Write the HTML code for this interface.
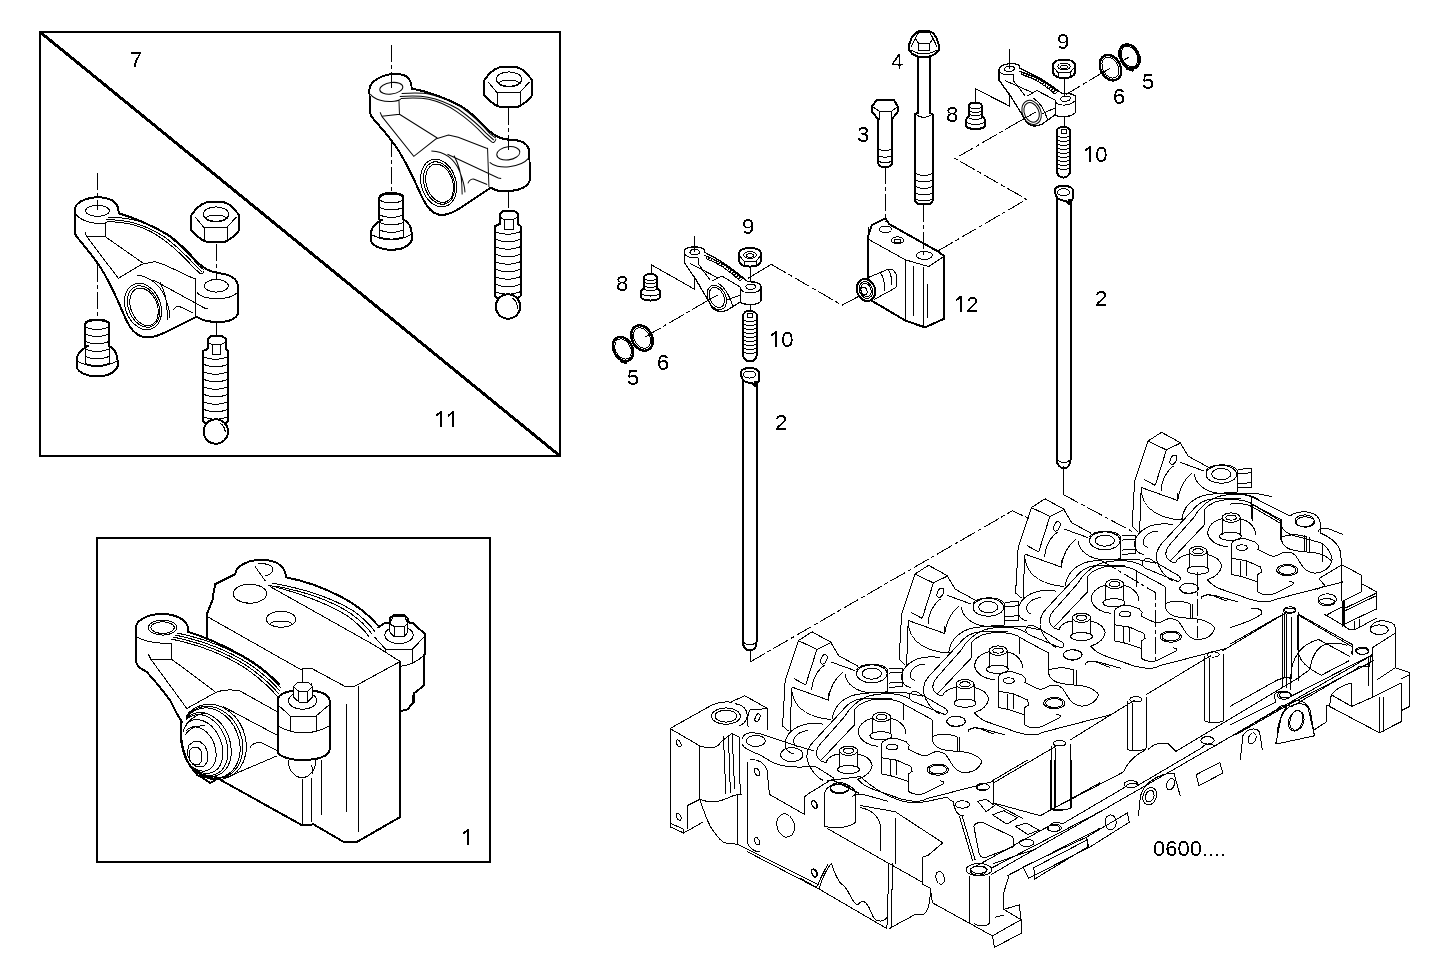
<!DOCTYPE html>
<html><head><meta charset="utf-8"><style>
html,body{margin:0;padding:0;background:#fff;width:1450px;height:977px;overflow:hidden}
svg{position:absolute;left:0;top:0}
.t{fill:none;stroke:#000;stroke-width:2;stroke-linejoin:round;stroke-linecap:round}
.n{fill:none;stroke:#000;stroke-width:1}
.d{fill:none;stroke:#000;stroke-width:1;stroke-dasharray:17 3 4 3}
.w{fill:#fff;stroke:#000;stroke-width:2;stroke-linejoin:round}
.nw{fill:#fff;stroke:#000;stroke-width:1}
.tw{fill:#fff;stroke:#000;stroke-width:2;stroke-linejoin:round}
</style></head><body>
<svg width="1450" height="977" viewBox="0 0 1450 977" font-family="Liberation Sans" font-size="22" shape-rendering="crispEdges">
<defs><filter id="bin" x="0" y="0" width="1" height="1"><feComponentTransfer><feFuncA type="discrete" tableValues="0 1"/></feComponentTransfer></filter></defs>
<!-- frames -->
<rect x="40" y="32" width="520" height="424" fill="none" stroke="#000" stroke-width="2"/>
<line x1="40" y1="32" x2="560" y2="456" stroke="#000" stroke-width="3"/>
<rect x="97" y="538" width="393" height="324" fill="none" stroke="#000" stroke-width="2"/>
<!-- labels -->
<g fill="#000" filter="url(#bin)">
<text x="130" y="67">7</text>
<path d="M440.2,411.0 h2 v16 h-2 v-13.2 l-4.7,3.4 v-2 z"/><path d="M452.4,411.0 h2 v16 h-2 v-13.2 l-4.7,3.4 v-2 z"/>
<path d="M467.2,829.0 h2 v16 h-2 v-13.2 l-4.7,3.4 v-2 z"/>
<text x="891" y="69">4</text>
<text x="1057" y="49">9</text>
<text x="1142" y="89">5</text>
<text x="1113" y="104">6</text>
<text x="946" y="122">8</text>
<text x="857" y="142">3</text>
<path d="M1089.2,146.0 h2 v16 h-2 v-13.2 l-4.7,3.4 v-2 z"/><text x="1095.2" y="162">0</text>
<path d="M960.2,295.5 h2 v16 h-2 v-13.2 l-4.7,3.4 v-2 z"/><text x="966.2" y="311.5">2</text>
<text x="1095" y="306">2</text>
<text x="742" y="234">9</text>
<text x="616" y="291">8</text>
<path d="M775.2,331.0 h2 v16 h-2 v-13.2 l-4.7,3.4 v-2 z"/><text x="781.2" y="347">0</text>
<text x="657" y="369.5">6</text>
<text x="627" y="385">5</text>
<text x="775" y="430">2</text>
<text x="1153" y="856">0600....</text>
</g>
<!-- BOX7 -->
<defs>
<g id="rocker">
<path class="w" d="M74.7,210 C75,203 84,198 97.5,197.2 C110,197.5 117,202 118.3,209 L118.7,213.3 C135,218 153,226 168.3,235 C180,243 190,254 198,263 C205,269 210,272 220,273.3 C232,275 238,280 238,287 L238,313.3 C236,319 228,322 218,322 C208,322 200,319 196.7,316.7 L166.7,331.7 C160,335 153,337.5 146.7,337.5 C140,337 134,333 130,326.7 C124,317 120,305 116.7,298.3 C112,288 106,276 100,266.7 C92,255 82,243 76.7,236.7 C74.8,234 74.7,232 74.7,231.7 Z"/>
<ellipse class="n" cx="97.5" cy="210.8" rx="12" ry="5.5"/>
<path class="n" d="M75.5,214 C80,220 90,223.5 100,223.5 C104,223.5 106,223 107,222 M105,222.5 L105,236.5 L86.7,236.5 L85,232.5 M86.7,236.5 L118.3,278.3 L141.7,264.2 L155,261.7 L165,265 L193.3,278.3 L195,279 M105,236.5 L143.3,263.3"/>
<path class="n" d="M106,219.5 C118,220 127,221 135,223.3 C148,227 157,232 166,238 C176,246 186,255 194,264 L201.7,271.5 M108,217 C120,217.5 130,218.5 138,221 C150,225 160,230 170,237 C180,245 190,255 198,265 L204,270 M107,221.5 C119,222 128,223 136,225.5 C147,229 156,234 164,240 C175,248 185,258 193,267 L199.5,273 C201,274.5 203,274 204,271"/>
<ellipse class="n" cx="143" cy="306.5" rx="17.5" ry="24" transform="rotate(-22 143 306.5)"/>
<ellipse class="n" cx="143.5" cy="306.5" rx="15" ry="21.5" transform="rotate(-22 143.5 306.5)"/>
<ellipse class="n" cx="144" cy="306.8" rx="13.2" ry="19.5" transform="rotate(-22 144 306.8)"/>
<path class="n" d="M136.7,275 C150,277 160,285 165,297 C168,305 170,312 170,318.3 M153.3,280 L205,308.3 L208,309 M173.3,310 C175,307 178,306 180,306.7 L193.3,313.3 M195,278.3 L195,315.8 M160,282 C164,290 167,300 167,310 L167,320"/>
<ellipse class="n" cx="216.3" cy="285.8" rx="12" ry="6.3"/>
<path class="n" d="M196.7,292.5 C200,296 208,298.7 216.7,298.7 C226,298.7 234,296 237.5,292.5"/>
</g>
<g id="nut">
<path class="w" d="M191.3,215.3 L196.3,208.5 L201.4,204.6 L206.5,202.3 L223.9,202.3 L229.5,204.6 L234.6,209.6 L238.6,214.4 L238.6,231 L234,236.1 L228.4,240 L223.9,242.3 L207.6,242.3 L202.5,240 L196.3,235.5 L191.3,230.5 Z"/>
<path class="n" d="M195.2,217 L203.6,227.1 L227.3,227.1 L236.3,217 M204.2,227.1 V241 M227.3,227.1 V241"/>
<ellipse class="n" cx="216" cy="214.1" rx="12.7" ry="7.2"/>
<path class="n" d="M205,218.4 C207,216 211,215.2 216,215.2 C221,215.2 225,216 227,218.4 C225,220.6 221,221.6 216,221.6 C211,221.6 207,220.6 205,218.4"/>
</g>
<g id="fbolt">
<path class="w" d="M76.5,360 C77,353 82,349 88,346 L85,346 L85,325 C85,321 90,319.5 97,319.5 C104,319.5 109.2,321 109.2,325 L109.2,346 C113,348 117,352 117.5,360 L117.5,366.7 C115,372 108,376.3 97,376.3 C86,376.3 78,372 76.5,366.7 Z"/>
<ellipse class="n" cx="97" cy="325" rx="12" ry="4.5"/>
<path class="n" d="M85,334 Q97,339 109.2,334 M85,341.5 Q97,346.5 109.2,341.5 M85,349 Q97,354 109.2,349 M85,356.5 Q97,361.5 109.2,356.5 M85,346 L85,363.3 Q97,368 109.2,363.3 L109.2,346 M77,361 Q97,372 117,361"/>
</g>
<g id="stud">
<path class="w" d="M203,351 L207.5,349 L207.5,339 L211,335.8 L222,335.8 L225.8,339 L225.8,349 L228.3,351 L228.3,421 C226,424 222,425 215.7,425 C209,425 205,424 203,421 Z"/>
<path class="n" d="M212,344.7 L212,354.2 L220.8,354.2 L220.8,344.7 M207.5,342 L212,344.7 L220.8,344.7 L225.8,342"/>
<path class="n" d="M203,356.7 Q215.7,362 228.3,356.7 M203,364.2 Q215.7,369.5 228.3,364.2 M203,371.7 Q215.7,377 228.3,371.7 M203,379.2 Q215.7,384.5 228.3,379.2 M203,386.7 Q215.7,392 228.3,386.7 M203,394.2 Q215.7,399.5 228.3,394.2 M203,401.7 Q215.7,407 228.3,401.7 M203,409.2 Q215.7,414.5 228.3,409.2 M203,416.7 Q215.7,422 228.3,416.7"/>
<circle class="w" cx="215.8" cy="431.5" r="12.2"/>
<path class="n" d="M220,423 Q226,427 225,434"/>
</g>
</defs>
<use href="#rocker"/>
<use href="#nut"/>
<use href="#fbolt"/>
<use href="#stud"/>
<use href="#rocker" transform="matrix(0.9614,-0.1115,0.0371,1.0433,289.74,-120.76)"/>
<use href="#nut" transform="translate(293,-135)"/>
<use href="#fbolt" transform="translate(294.3,-126.5)"/>
<use href="#stud" transform="translate(292.2,-125)"/>
<path class="d" d="M97,173 V210 M97,265 V320 M216,244 V280 M216,322 V336"/>
<path class="d" d="M391.5,45 V88 M391.5,140 V193 M508,108 V150 M508,191 V210"/>
<!-- /BOX7 -->
<!-- EXPL -->
<defs>
<g id="srock">
<path class="n" style="stroke-width:1.3" fill="#fff" d="M684.3,252 C684.3,249 688,246.9 694.7,246.9 C701,246.9 705,249 705,252.5 C716,258 731,267 745.1,279.5 C747,282 749,281.8 750.7,281.8 C757,281.8 761,284 761,286.7 L761,300 C761,303 756,304.6 750.7,304.6 C746,304.6 742,303.5 740.3,301.9 L727.2,310.2 C724,311.5 721,311.5 720.2,311.5 C715,311 712,308 710.6,304.6 L705,295 L696.8,281.1 L684.3,262.5 Z"/>
<ellipse class="n" cx="694.7" cy="252.1" rx="4.8" ry="2.6"/>
<ellipse class="n" cx="750.7" cy="286.7" rx="4.8" ry="2.6"/>
<path class="n" d="M740.3,287 C740.3,291 745,293 750.7,293 C756,293 761,291 761,287 M740.3,287 L740.3,301.9 M684.3,253 C685,256 690,258 698.4,258 L698.4,264 M689.8,263.2 L717.5,277.7 M698.4,264 L710,280 M712,281 L722,276 L740,287 M718,283 C724,287 730,296 733,307 M727,300 L740.3,295"/>
<ellipse class="n" cx="716.8" cy="297.5" rx="9" ry="12.8" transform="rotate(-25 716.8 297.5)"/>
<ellipse class="n" cx="716.8" cy="297.5" rx="7" ry="10.5" transform="rotate(-25 716.8 297.5)"/>
<path class="n" d="M704,255 C717,260 731,268 743,279 M706,258.5 C718,263 730,271 740,281" />
<path class="n" style="stroke-dasharray:1.2 1.6;stroke-width:3" d="M706,257 C719,262 731,269.5 741.5,280"/>
</g>
<g id="sscrew">
<path class="tw" d="M644.2,288 L644.2,277 C644.2,275 647,274.2 650.5,274.2 C654,274.2 656.7,275 656.7,277 L656.7,288 C659,289 660.1,291 660.1,293 L660.1,296 C660.1,299 656,300.5 650.5,300.5 C645,300.5 640.8,299 640.8,296 L640.8,293 C640.8,291 642,289 644.2,288 Z"/>
<path class="n" d="M644.2,279 Q650.5,282 656.7,279 M644.2,282.5 Q650.5,285.5 656.7,282.5 M644.2,286 Q650.5,289 656.7,286 M644.2,289.5 Q650.5,292.5 656.7,289.5 M641,294 Q650.5,298 660,294"/>
</g>
<g id="snut">
<path class="tw" d="M738.9,254 C739,250 744,248 750,248 C756,248 761,250 761,254 L761,261 C760,265 755,266.6 750,266.6 C745,266.6 740,265 738.9,261 Z"/>
<ellipse class="n" cx="750" cy="255" rx="6.2" ry="3.4"/>
<ellipse class="n" cx="750" cy="255.5" rx="3.5" ry="1.8"/>
<path class="n" d="M739.5,256 L744,261 L756,261 L760.5,256 M744,261 V266 M756,261 V266"/>
</g>
<g id="sstud">
<path class="tw" d="M743,316 C743,313 746,310.9 750,310.9 C754,310.9 756.9,313 756.9,316 L756.9,354 C756.9,358 754,361.6 750,361.6 C746,361.6 743,358 743,354 Z"/>
<path class="n" d="M747.5,313.5 h5 v4 h-5 z M743,320 Q750,323 756.9,320 M743,324 Q750,327 756.9,324 M743,328 Q750,331 756.9,328 M743,332 Q750,335 756.9,332 M743,336 Q750,339 756.9,336 M743,340 Q750,343 756.9,340 M743,344 Q750,347 756.9,344 M743,348 Q750,351 756.9,348 M743,352 Q750,355 756.9,352"/>
</g>
<g id="ring6">
<ellipse class="t" style="stroke-width:2.4" cx="0" cy="0" rx="10" ry="13.4" transform="rotate(-28)"/>
<ellipse class="n" cx="0" cy="0" rx="7.8" ry="11" transform="rotate(-28)"/>
</g>
<g id="ring5">
<ellipse class="t" style="stroke-width:2.4" cx="0" cy="0" rx="9.3" ry="12.8" transform="rotate(-28)"/>
<ellipse class="n" cx="0" cy="0" rx="7.5" ry="10.8" transform="rotate(-28)"/>
<path class="t" style="stroke-width:3" d="M-2,12 L3,13.5"/>
</g>
</defs>
<!-- mid set -->
<use href="#srock"/>
<use href="#sscrew"/>
<use href="#snut"/>
<use href="#sstud"/>
<use href="#ring6" transform="translate(642,338)"/>
<use href="#ring5" transform="translate(623,349)"/>
<path class="n" d="M694.7,235.5 V252 M651.1,274.2 V264.6 L694.7,289.4 V275.6 M750,266.6 V281.8 M750,304.6 V311.5 M748,278.4 L771.2,264.3 M842.1,305.2 L858.6,296.4 M717.5,295 L707,301 M651,333.5 L645,337"/>
<path class="d" d="M707,301 L651,333.5"/>
<path class="d" d="M771.2,264.3 L842.1,305.2"/>
<!-- top set -->
<use href="#srock" transform="matrix(1,-0.086,0,1,314.8,-123.46)"/>
<use href="#sscrew" transform="translate(325,-171.5)"/>
<use href="#snut" transform="translate(314,-188.5)"/>
<use href="#sstud" transform="translate(313.5,-184)"/>
<use href="#ring6" transform="translate(1110.5,67.7)"/>
<use href="#ring5" transform="translate(1129.5,56.5)"/>
<path class="n" d="M1009.5,49 V69 M975.3,102.8 V88.7 L1009.5,106.1 V93 M1064.2,78 V96.2 M1064.2,116.9 V127.6 M1101,73.6 L1110,68.3 M1122,61 L1128.7,57.3 M1036,111.9 L1020,121"/>
<path class="d" d="M1065.8,94.5 L1101,73.6 M1020,121 L955,158.5 L1026.7,199.3 L937.5,251.2"/>
<!-- pushrods -->
<g id="prod">
<path class="tw" d="M742.9,380 V642 C742.9,647 746,650.5 750,650.5 C754,650.5 756.5,647 756.5,642 V380"/>
<path class="tw" d="M740.5,374 C740.5,370 744,368.1 749.5,368.1 C755,368.1 759.2,370 759.2,374 L758.5,382 L755,382 L755,386 L752,383 C748,383 745,382 743,380 Z"/>
<ellipse class="n" cx="749.5" cy="374.5" rx="6" ry="3.5"/>
<path class="n" d="M743,642 Q750,648 756.5,642"/>
</g>
<use href="#prod" transform="translate(314,-182.3)"/>
<path class="n" d="M750,650.5 V662 M1063.4,466 V494.6"/>
<path class="d" d="M750,662 L1012.4,510.8 L1030,519 M1063.4,494.6 L1133.3,532.1 M1100.7,560.2 L1155.9,592.9 L1155.9,662.7 M1197.5,572 L1197.5,638"/>
<!-- bolts 3,4 -->
<path class="tw" d="M878.4,119.5 L872.3,112 L872.3,106 L877,99.5 L893.5,99.5 L897.5,106 L897.5,112 L891.7,119.5 L891.7,164 C891.7,166 889,167 885,167 C881,167 878.4,166 878.4,164 Z"/>
<path class="n" d="M873.5,107.2 L879.7,111.5 L891.3,111.5 L896.9,107.2 M879.7,111.5 V119.5 M891.3,111.5 V119.5 M878.4,149 Q885,152 891.7,149 M878.4,155.7 Q885,158.7 891.7,155.7 M878.4,161.3 Q885,164.3 891.7,161.3"/>
<path class="tw" d="M918.1,56 V113 L915.3,114 V201 C915.3,203 919,204.5 924,204.5 C929,204.5 932.5,203 932.5,201 V114 L930,113 V56"/>
<path class="tw" d="M909.3,44.3 L911.4,38.1 L915.2,33.3 L918.6,31.2 L929.7,31.2 L933.1,33.3 L936.2,37.4 L938.6,44.3 L938.6,50.5 L935.2,54 L930.3,56.4 L923.4,57.1 L917.2,56.4 L912.4,54 L909.3,50.5 Z"/>
<path class="n" d="M915.2,38.4 L918.6,32.6 L929.7,32.6 L933.1,38.4 L929.7,43.3 L918.6,43.3 Z M918.6,43.3 V50.2 H929.7 V43.3 M915.2,38.4 L911,47 M933.1,38.4 L937,47 M911,50 Q924,58 937,50 M915.3,114 Q924,121 932.5,114 M915.3,173.5 Q924,177.5 932.5,173.5 M915.3,180 Q924,184 932.5,180 M915.3,186.5 Q924,190.5 932.5,186.5 M915.3,193 Q924,197 932.5,193 M915.3,199 Q924,203 932.5,199"/>
<!-- block 12 -->
<path class="tw" d="M868,236.7 L871.9,225.1 L885.4,218.3 L889.2,224.1 L937.5,251.2 L944.3,256 L944.3,318.7 L925,327.4 L905.6,320.7 L868,298.5 Z"/>
<path class="n" d="M869,239.6 L905.6,259.9 L928.8,266.6 L944.3,256 M905.6,259.9 V320.7 M913.4,266 V316 M923,266.6 V327 M927.9,284 V318"/>
<ellipse class="n" cx="885.4" cy="229.3" rx="6" ry="3.3"/>
<ellipse class="n" cx="897.5" cy="240.2" rx="6" ry="3.3"/>
<ellipse class="n" cx="897.5" cy="241" rx="3.5" ry="1.6"/>
<ellipse class="n" cx="924.4" cy="255.4" rx="8" ry="4"/>
<path class="d" d="M885.4,167 V222 M923.9,204.5 V255"/>
<path class="nw" d="M869,277.2 L887.6,269.5 C893,267.5 897,273 897,279 C897,284 896,286.5 895.9,287.6 L874.1,299.5"/>
<path class="n" d="M887.6,269.5 C891,272 892,279 891,285 M880,273 C884,276 885,283 884,292"/>
<ellipse class="tw" cx="866" cy="290" rx="9" ry="11.2" transform="rotate(-20 866 290)"/>
<ellipse class="n" cx="866" cy="290" rx="6.5" ry="8.5" transform="rotate(-20 866 290)"/><ellipse class="n" cx="866" cy="290" rx="5" ry="6.8" transform="rotate(-20 866 290)"/>
<ellipse class="n" cx="864" cy="291" rx="3" ry="4" transform="rotate(-20 864 291)"/>
<path class="n" d="M868,227 V278"/>
<!-- /EXPL -->
<!-- BOX1 -->
<g>
<!-- back rocker -->
<path class="t" d="M235.2,574 C236,566 247,560 261.9,559.7 C276,560 285,566 286.1,576.7 M287,577.5 C300,580 320,586 340.8,596.6 C355,604 368,614 378.1,625.6"/>
<path class="n" d="M272,583 C300,588 330,597 352,610 C362,617 370,624 375,632 M275,586 C302,591 330,600 350,613 C360,620 367,627 372,634 M268,585 C296,592 324,602 346,615 C356,622 364,629 369,637 M270.3,586.7 L374,645 M255.2,566.7 L265.2,580.8 M258,564 C266,563 272,565 273,569 C273,573 269,575 265,576"/>
<!-- block -->
<path class="t" d="M235.2,574.2 L215.2,584.2 C214,590 213,596 212.6,600 L206.8,614.3 L206.8,636.8"/>
<path class="n" d="M207.6,616.8 L300.3,669.3 C304,668.3 308,668 311.8,668.5 L345,686.4 L354.6,686.4 L400.2,661.5 L374,645"/>
<ellipse class="n" cx="249.9" cy="593.7" rx="16.7" ry="9.5"/>
<ellipse class="n" cx="281.1" cy="619.3" rx="14.7" ry="8"/>
<path class="n" d="M270,624 C273,620 289,620 292,624"/>
<path class="t" d="M400.4,661.5 V816.9 L357,841.9 L343.6,841.9 L313.6,824.4 L301.9,825.2 L215,776.8"/>
<path class="n" d="M302.7,778.5 V824.4 M311.1,778 V822 M321.1,760 V815 M346.1,704 V812 M358.7,686.4 V832 M302.1,668.5 V684 M311.1,683 V700 M321.5,700 V713"/>
<!-- back nut -->
<path class="t" d="M378.1,627.6 L384.3,623.3 L389.8,622.7 L389.8,618 L393.5,615.4 L404.5,615.4 L407.6,618 L407.6,622.1 L413.1,623.3 L425.4,634.4 L425.4,652.8 L424.2,655 V684.8 L417.4,690.9 L413.7,693.4 V702 L407.6,709.3 L400.2,711.2"/>
<ellipse class="n" cx="399" cy="635" rx="14.1" ry="8.6"/>
<path class="nw" d="M389.8,624 L393.5,616 L404.5,616 L407.6,623.3 L407.6,632 L404.5,636.9 L394.1,636.9 L389.8,632 Z"/>
<path class="n" d="M389.8,624 L394.1,626.4 L404.5,626.4 L407.6,623.3 M394.1,626.4 V636.9 M404.5,626.4 V636.9 M374.4,636.9 L385.5,649.1 L412.5,649.1 L424.2,636.9 M385.5,649.1 V653 M412.5,649.1 V663.9 M400.8,666.3 C411,665 418,661 424.2,655 M412.7,695 V705"/>
<!-- front rocker -->
<path class="t" fill="none" d="M135.9,661.8 V626.8 C137,620 148,614 161.7,613.9 C175,614 185,619 187.6,626 V631.8 L190.1,632.6 C205,637 225,646 246.9,658.5 C258,665 268,673 279,684"/>
<path class="t" d="M135.9,661.8 L138.4,666.9 L146.7,671.9 L158.4,685.2 L170.1,700.3 L175.1,710.3 C178,716 181,720 181.7,721.7 C181,727 180.9,731.7 180.9,731.7 C181,737 181.7,745 181.7,745.1 C183,752 185,757 186.7,760.1 C190,766 193,770 195.1,771.8"/>
<ellipse class="n" cx="162.6" cy="627.6" rx="14.2" ry="7.5"/>
<ellipse class="n" cx="162.6" cy="627.6" rx="11.7" ry="5.8"/>
<path class="n" d="M136.7,636.8 C145,642 158,643.5 171.7,643.5 M171.7,642.6 V658.5 M148.4,654.3 L150.9,659.3 H171.7 M150.9,659.3 L186.8,708.5 M171.7,659.3 L215.2,691.7"/>
<path class="n" d="M171,639 C200,645 225,655 245,668 C260,678 270,688 278,697 M173,637 C202,643 227,653 247,666 C262,676 272,686 279,694 M175,635 C204,641 229,651 249,664 C264,674 274,684 280,691 M177,633 C206,639 231,649 251,662 C266,672 276,682 281,688"/>
<path class="n" d="M186.8,708.5 L213,694 C220,690 230,689 240,691 L277.7,712 M220.1,780.2 L276.9,755.9 M223.4,706.7 L276.9,735.1 C282,738 286,741 290,743 M250,748 C252,743 256,742 262,743 L277.7,751"/>
<!-- shaft end rings -->
<clipPath id="rc"><path d="M186,700 L262,700 L262,792 L205,792 L192,765 L186,735 Z"/></clipPath>
<g class="n" clip-path="url(#rc)">
<ellipse cx="213" cy="742" rx="32.5" ry="38.5" transform="rotate(-22 213 742)"/>
<ellipse cx="211.5" cy="742.5" rx="30.3" ry="37" transform="rotate(-22 211.5 742.5)"/>
<ellipse cx="210.5" cy="743" rx="28.5" ry="36" transform="rotate(-22 210.5 743)"/>
<ellipse cx="205.7" cy="744.5" rx="24.2" ry="33" transform="rotate(-22 205.7 744.5)"/>
<ellipse cx="204" cy="745" rx="22.5" ry="31.5" transform="rotate(-22 204 745)"/>
<ellipse cx="201.8" cy="746.5" rx="19.8" ry="28" transform="rotate(-22 201.8 746.5)"/>
<ellipse cx="199" cy="749" rx="16" ry="23" transform="rotate(-22 199 749)"/>
</g>
<path class="n" d="M183,732 C186,722 195,714 206,713 M185,735 C190,728 197,725 205,726"/>
<path class="t" d="M181,723 C180,745 185,762 196,773 M197,775 L203,778 L210,783 L214,781 L216,778"/>
<path class="nw" d="M189,745 L194,741.5 L200,741.5 L205,746 L207.8,753 L207.8,761 L204,766.3 L196,766.3 L190,761 L187,753 Z"/>
<path class="n" d="M190,750 L193,747 L198,747 L201.8,752 L201.8,761 L199,764.5 L193,764.5 L189.5,760 Z"/>
<!-- front nut -->
<path class="tw" d="M277.7,700 C278,694 288,690 303,690 C318,690 329,694 329.5,700 V750 C329,756 318,760 303,760 C290,760 280,757 277.7,752 Z"/>
<ellipse class="n" cx="302.6" cy="700.7" rx="14.1" ry="8.6"/>
<path class="nw" d="M293.3,686.6 L297,682.9 L308.7,682.9 L312.4,686.6 L312.4,697 L307.5,702 L298.9,702 L293.3,697 Z"/>
<path class="n" d="M293.3,686.6 L298.9,691.5 L307.5,691.5 L312.4,686.6 M298.9,691.5 V702 M307.5,691.5 V702"/>
<path class="n" d="M278,705 L290.3,716 L316.1,716 L329,705 M290.3,716 V731 M316.1,716 V731 M277.7,726 Q303,740 329.5,726 M277.7,731 V752"/>
<path class="n" d="M288,760 C288,770 295,777.7 302,777.7 C309,777.7 316,770 316,760 M311,765 Q314,770 312,774"/>
</g>
<!-- /BOX1 -->
<!-- ENGINE -->
<g>
<!-- t1.txt -->
<path class="n" d="M 670.0,728.5 L 712.2,704.9 C 717.2,702.9 720.9,701.9 725.9,701.9 C 729.7,701.9 732.1,702.4 731.1,701.9 L 744.8,695.7 L 767.5,708.6 L 767.5,730.0"/>
<path class="n" d="M 670.0,728.5 L 670.0,826.8 L 683.6,833.0 L 703.5,821.8"/>
<path class="n" d="M 683.6,833.0 L 683.6,829.3 L 670.0,823.0"/>
<path class="n" d="M 670.0,728.5 L 699.8,745.9 L 699.8,799.4"/>
<path class="n" d="M 699.8,745.9 C 707.3,748.4 714.7,748.4 718.5,745.2 C 720.9,740.9 725.9,737.7 732.1,733.5 L 739.6,737.2"/>
<path class="n" d="M 699.8,799.4 C 709.8,803.1 719.7,801.9 727.2,798.2 C 732.1,795.7 737.1,794.4 742.1,794.4"/>
<path class="n" d="M 723.4,736.0 L 725.9,794.4 M 732.1,733.5 L 734.6,789.5 M 728.4,735.2 L 730.4,793.2 M 739.6,737.2 L 740.1,794.4"/>
<path class="n" d="M 687.4,805.6 L 687.4,829.3 M 687.4,805.6 L 699.8,799.4"/>
<path class="n" d="M 699.8,799.4 C 704.8,814.3 708.5,824.3 712.2,829.3 C 717.2,836.7 720.9,841.7 724.7,842.9 L 737.1,844.2"/>
<path class="n" d="M 737.1,794.4 L 737.1,844.2"/>
<path class="n" d="M 737.1,844.2 L 819.2,885.2 M 747.1,851.6 L 814.2,886.5"/>
<path class="n" d="M 749.8,709.9 L 767.5,708.6 M 749.8,709.9 C 747.1,714.8 747.6,722.3 748.1,727.5 M 734.6,703.6 C 743.3,704.9 748.3,709.9 747.1,717.3 C 745.8,722.3 742.1,724.8 739.6,726.0"/>
<ellipse class="n" cx="678.7" cy="743.4" rx="2.0" ry="3.7" transform="rotate(-25.0 678.7 743.4)"/>
<ellipse class="n" cx="678.7" cy="816.8" rx="2.0" ry="3.7" transform="rotate(-25.0 678.7 816.8)"/>
<ellipse class="n" cx="725.9" cy="716.1" rx="14.4" ry="8.2"/>
<ellipse class="n" cx="725.9" cy="716.1" rx="10.9" ry="6.0"/>
<ellipse class="n" cx="757.5" cy="717.8" rx="2.2" ry="4.2" transform="rotate(20.0 757.5 717.8)"/>
<path class="n" d="M 742.1,738.5 C 743.3,734.7 747.1,732.7 752.0,732.7 C 759.5,732.7 764.5,735.2 769.5,736.7 L 789.4,743.4 C 799.3,746.7 806.8,749.2 814.2,750.9"/>
<path class="n" d="M 742.1,744.7 C 744.6,748.4 752.0,752.1 759.5,754.6 L 771.9,762.1 C 779.4,765.8 789.4,767.1 799.3,767.1 C 806.8,767.1 811.7,765.8 816.7,767.1 L 834.1,778.3"/>
<ellipse class="n" cx="755.8" cy="740.9" rx="9.5" ry="5.5"/>
<ellipse class="n" cx="791.8" cy="754.6" rx="11.2" ry="7.0"/>
<path class="n" d="M 749.6,759.6 C 757.0,759.1 764.5,762.1 767.0,769.6 L 769.5,794.4 L 804.3,814.3 L 804.3,796.9 L 809.3,793.2 L 831.6,779.5"/>
<path class="n" d="M 747.1,762.1 L 747.1,841.7 C 749.6,849.2 754.5,851.6 759.5,851.6"/>
<ellipse class="n" cx="757.0" cy="772.0" rx="2.2" ry="4.0" transform="rotate(-25.0 757.0 772.0)"/>
<ellipse class="n" cx="814.2" cy="804.4" rx="2.2" ry="4.0" transform="rotate(-25.0 814.2 804.4)"/>
<ellipse class="n" cx="757.0" cy="841.2" rx="2.2" ry="4.0" transform="rotate(-25.0 757.0 841.2)"/>
<ellipse class="n" cx="814.2" cy="873.5" rx="2.2" ry="4.0" transform="rotate(-25.0 814.2 873.5)"/>
<ellipse class="n" cx="785.6" cy="825.5" rx="8.7" ry="11.9" transform="rotate(-15.0 785.6 825.5)"/>
<path class="n" d="M 831.6,779.5 L 859.0,793.2"/>
<!-- t2.txt -->
<path class="n" d="M 993.2,783.1 L 1058.4,744.7 M 1069.6,740.3 L 1134.8,700.0 M 1146.0,694.8 L 1211.2,655.3 M 1222.4,650.8 L 1287.6,611.7"/>
<ellipse class="n" cx="1059.5" cy="743.3" rx="6.0" ry="2.6"/>
<ellipse class="n" cx="1135.9" cy="699.3" rx="6.0" ry="2.6"/>
<ellipse class="n" cx="1213.1" cy="654.5" rx="6.0" ry="2.6"/>
<ellipse class="n" cx="1289.5" cy="610.6" rx="6.0" ry="2.6"/>
<path class="n" d="M 1051.0,745.9 L 1051.0,808.1 C 1054.7,810.3 1065.9,810.3 1070.7,808.1 L 1070.7,744.0"/>
<path class="n" d="M 1055.8,747.7 L 1055.8,808.1"/>
<path class="n" d="M 1127.4,701.1 L 1127.4,749.6 M 1146.7,697.4 L 1146.7,747.7 C 1142.3,751.4 1132.9,751.4 1127.4,749.6"/>
<path class="n" d="M 1132.2,703.0 L 1132.2,749.6"/>
<path class="n" d="M 1204.9,656.4 L 1204.9,720.9 C 1209.4,723.5 1218.7,723.5 1223.5,720.9 L 1223.5,653.8"/>
<path class="n" d="M 1209.4,658.3 L 1209.4,721.6"/>
<path class="n" d="M 1282.0,612.8 L 1282.0,688.1 M 1298.8,611.7 L 1298.8,680.6"/>
<path class="n" d="M 1286.5,614.3 L 1286.5,688.1"/>
<path class="n" d="M 1039.8,815.6 L 1123.6,771.9 M 1147.9,749.6 C 1153.4,744.0 1160.9,742.1 1168.4,744.0 L 1175.8,751.4 L 1296.9,678.8"/>
<path class="n" d="M 993.2,783.1 L 993.2,802.9 L 1039.8,815.6 M 993.2,802.9 L 1023.0,818.5"/>
<path class="n" d="M 1123.6,771.9 C 1127.4,762.6 1134.8,755.2 1146.0,749.6"/>
<path class="n" d="M 1298.8,615.4 L 1352.9,647.1 L 1352.9,654.5 M 1296.9,678.8 L 1310.0,669.5 C 1313.7,643.4 1328.6,639.6 1347.3,645.2"/>
<path class="n" d="M 1291.4,617.3 L 1291.4,678.8"/>
<path class="n" d="M 974.5,867.0 L 1049.1,826.0 C 1051.0,822.3 1058.4,821.5 1062.1,824.1 L 1125.5,786.9 C 1127.4,783.1 1134.8,782.4 1138.5,785.0 L 1201.9,747.7 C 1203.8,744.0 1211.2,743.3 1214.9,745.9 L 1278.3,708.6 C 1280.2,704.9 1287.6,704.1 1291.4,706.7 L 1356.6,668.7 C 1358.4,665.7 1365.9,665.0 1368.9,667.6 L 1371.5,654.5"/>
<path class="n" d="M 991.3,874.4 L 1373.4,654.5"/>
<ellipse class="n" cx="978.3" cy="870.7" rx="8.2" ry="4.5"/>
<ellipse class="n" cx="1054.7" cy="827.9" rx="6.7" ry="3.7"/>
<ellipse class="n" cx="1131.1" cy="784.2" rx="6.7" ry="3.7"/>
<ellipse class="n" cx="1207.5" cy="740.3" rx="6.7" ry="3.7"/>
<ellipse class="n" cx="1283.9" cy="695.5" rx="6.7" ry="3.7"/>
<ellipse class="n" cx="1362.2" cy="650.8" rx="6.7" ry="3.7"/>
<ellipse class="n" cx="982.7" cy="786.9" rx="6.7" ry="3.7"/>
<path class="n" d="M 1138.5,815.6 L 1140.4,796.2 C 1144.1,781.3 1160.9,773.1 1173.9,773.1 L 1180.3,796.2"/>
<ellipse class="n" cx="1149.7" cy="796.2" rx="6.7" ry="8.9" transform="rotate(20.0 1149.7 796.2)"/>
<ellipse class="n" cx="1149.7" cy="796.2" rx="4.1" ry="6.0" transform="rotate(20.0 1149.7 796.2)"/>
<ellipse class="n" cx="1170.6" cy="784.2" rx="3.7" ry="6.0" transform="rotate(20.0 1170.6 784.2)"/>
<path class="n" d="M 1240.3,759.6 L 1242.9,735.8 C 1246.6,728.3 1257.1,726.5 1259.7,732.8 L 1262.3,749.6"/>
<ellipse class="n" cx="1252.2" cy="738.4" rx="3.7" ry="5.6" transform="rotate(20.0 1252.2 738.4)"/>
<path class="n" d="M 1275.7,744.0 L 1280.9,718.7 C 1284.6,704.1 1301.8,700.0 1308.1,707.8 L 1314.5,735.8 L 1276.4,744.0"/>
<ellipse class="n" cx="1296.2" cy="720.9" rx="7.5" ry="10.4" transform="rotate(20.0 1296.2 720.9)"/>
<path class="n" d="M 1196.3,774.6 L 1219.8,762.6 L 1222.8,773.1 L 1198.9,785.7 Z"/>
<path class="n" d="M 1023.0,867.0 L 1086.4,837.2 L 1089.0,847.6 L 1028.6,878.2 Z"/>
<path class="n" d="M 1086.4,837.2 L 1127.4,812.9 L 1129.2,822.3 L 1089.0,847.6"/>
<ellipse class="n" cx="1110.6" cy="822.3" rx="5.6" ry="7.5"/>
<!-- t3.txt -->
<path class="n" d="M 1230.0,494.4 C 1237.2,493.2 1244.4,494.0 1251.7,496.8 L 1290.1,516.1 C 1292.5,513.2 1299.8,511.3 1307.0,512.0 C 1315.4,513.2 1320.2,517.3 1320.2,524.5 L 1320.2,532.9 C 1328.6,536.5 1335.8,541.3 1339.5,548.6 C 1341.1,553.4 1341.1,557.0 1341.1,561.8 L 1342.6,626.7"/>
<path class="n" d="M 1251.7,496.8 L 1251.7,518.5 M 1280.5,520.9 L 1280.5,540.1 M 1251.7,504.1 L 1280.5,520.9"/>
<path class="n" d="M 1230.0,504.1 C 1239.6,502.9 1246.8,504.1 1251.7,506.5 L 1280.5,523.3 C 1281.7,530.5 1287.7,535.3 1302.2,537.7 L 1321.4,543.0 C 1326.2,546.2 1331.0,552.2 1332.2,559.4 L 1331.0,561.8"/>
<path class="n" d="M 1304.6,535.3 L 1304.6,552.2 M 1322.6,543.7 L 1322.6,561.8"/>
<ellipse class="n" cx="1304.6" cy="520.9" rx="9.6" ry="6.0"/>
<path class="n" d="M 1340.7,564.2 L 1361.1,575.0 L 1361.1,591.9 L 1344.3,600.3 M 1361.1,583.4 L 1376.7,591.9 L 1376.7,608.7 L 1344.3,624.3 M 1344.3,611.1 L 1376.7,595.5"/>
<path class="n" d="M 1319.0,578.6 L 1340.7,565.4 M 1325.0,615.9 L 1343.1,606.3 M 1319.0,578.6 L 1325.0,585.8 L 1316.6,589.5"/>
<ellipse class="n" cx="1327.4" cy="599.1" rx="9.1" ry="5.3"/>
<!-- t4.txt -->
<path class="n" d="M 800.0,877.9 L 886.9,928.6 L 889.0,863.5 M 891.0,928.6 L 892.7,863.5 M 889.0,928.6 L 915.9,914.1 C 924.1,917.3 930.4,913.1 930.4,888.3 L 922.1,884.1 L 922.1,857.2 L 928.3,855.2 L 942.8,842.8 L 895.2,811.7"/>
<path class="n" d="M 932.4,902.8 L 992.4,935.9 L 994.5,947.3 L 1021.0,933.4 L 1021.0,919.7 L 1003.8,909.4 L 1003.8,892.4 L 1009.0,875.9"/>
<path class="n" d="M 930.4,888.3 L 932.4,902.8 M 992.4,935.9 L 1021.0,919.7"/>
<path class="n" d="M 969.7,875.9 L 969.7,923.5 M 989.3,875.9 L 989.3,923.5 C 986.2,926.6 977.9,926.6 973.8,923.5"/>
<ellipse class="n" cx="979.0" cy="869.7" rx="8.3" ry="3.7"/>
<ellipse class="n" cx="979.0" cy="869.7" rx="12.8" ry="6.2"/>
<path class="n" d="M 994.5,917.3 L 1003.8,915.2 M 1003.8,909.4 L 1019.3,904.8 L 1021.0,919.7"/>
<ellipse class="n" cx="814.5" cy="804.5" rx="2.5" ry="4.1" transform="rotate(-25.0 814.5 804.5)"/>
<ellipse class="n" cx="814.5" cy="872.8" rx="2.5" ry="4.1" transform="rotate(-25.0 814.5 872.8)"/>
<path class="n" d="M 819.2,888.7 C 820.7,882.1 826.9,867.6 831.5,863.5 C 834.1,871.7 837.2,880.0 841.4,884.1 C 849.7,888.3 851.7,904.8 857.9,904.8 C 864.1,896.6 868.3,904.8 872.4,915.2 C 874.5,921.4 882.8,923.5 886.9,917.3"/>
<path class="n" d="M 816.6,887.3 C 819.7,880.0 824.8,869.7 827.9,864.5"/>
<ellipse class="n" cx="839.3" cy="789.0" rx="9.3" ry="4.6"/>
<path class="n" d="M 824.8,793.1 C 825.9,786.9 833.1,783.8 839.3,783.8 C 845.5,783.8 853.8,785.9 855.9,793.1 L 855.9,822.1 M 824.8,793.1 L 824.8,826.2 C 833.1,829.3 847.6,828.3 855.9,822.1"/>
<path class="n" d="M 826.9,828.3 L 889.0,863.5 L 922.1,882.1"/>
<path class="n" d="M 860.0,807.6 C 872.4,809.7 878.6,815.9 880.7,826.2 L 880.7,851.0 M 895.2,817.9 L 895.2,863.5"/>
<path class="n" d="M 860.0,805.5 L 895.2,811.7"/>
<ellipse class="n" cx="940.1" cy="877.9" rx="4.1" ry="6.6" transform="rotate(-15.0 940.1 877.9)"/>
<path class="n" d="M 973.8,826.2 C 975.9,822.1 980.0,822.1 984.2,823.1 L 1012.1,836.6 C 1014.2,838.6 1014.2,844.8 1013.1,846.9 L 986.2,857.2 C 982.1,858.3 980.0,856.2 979.0,853.1 Z"/>
<path class="n" d="M 959.3,815.9 L 972.8,861.4 M 961.8,814.8 L 975.3,860.4"/>
<ellipse class="n" cx="962.4" cy="804.5" rx="7.2" ry="3.7"/>
<ellipse class="n" cx="1053.5" cy="828.3" rx="6.2" ry="3.1"/>
<ellipse class="n" cx="1026.6" cy="842.8" rx="7.2" ry="3.7"/>
<ellipse class="n" cx="983.1" cy="786.9" rx="6.2" ry="3.1"/>
<path class="n" d="M 977.9,801.4 L 986.2,799.3 L 994.5,805.5 L 986.2,811.7 Z"/>
<path class="n" d="M 992.4,814.8 L 1003.8,810.7 L 1017.3,817.9 L 1006.9,824.1 Z"/>
<path class="n" d="M 1015.2,826.2 L 1026.6,823.1 L 1039.0,830.3 L 1027.6,834.5 Z"/>
<path class="n" d="M 992.4,867.6 L 1100.0,811.7 M 993.5,863.5 L 1035.9,849.0 M 1006.9,875.9 L 1100.0,828.3"/>
<path class="n" d="M 1033.8,867.6 L 1087.6,839.7 L 1087.6,846.9 L 1034.8,879.0 Z"/>
<path class="n" d="M 1040.0,815.9 L 1100.0,782.8 M 992.4,780.7 L 1027.6,760.0"/>
<path class="n" d="M 1050.4,760.0 L 1050.4,809.7 M 1054.5,760.0 L 1054.5,809.7 M 1071.1,760.0 L 1071.1,807.6 C 1066.9,810.7 1056.6,810.7 1050.4,809.7"/>
<path class="n" d="M 940.7,799.3 C 944.8,796.2 949.0,797.2 950.0,800.3 L 953.1,801.4 C 955.2,813.8 959.3,815.9 963.5,815.9"/>
<path class="n" d="M 860.0,776.6 C 872.4,786.9 882.8,795.2 903.5,801.4 C 915.9,804.5 928.3,801.4 940.7,798.3"/>
<path class="n" d="M 826.9,780.7 L 860.0,776.6"/>
<!-- t5.txt -->
<path class="n" d="M 1230.0,644.2 L 1281.1,615.2 L 1284.6,614.9"/>
<path class="n" d="M 1284.6,615.2 L 1284.6,677.4 M 1297.7,614.5 L 1297.7,649.8"/>
<ellipse class="n" cx="1290.1" cy="609.7" rx="5.8" ry="2.8"/>
<path class="n" d="M 1285.3,611.1 C 1286.7,613.1 1293.6,613.1 1295.0,611.1"/>
<path class="n" d="M 1299.1,614.5 L 1353.0,644.9 L 1351.6,653.9"/>
<path class="n" d="M 1230.0,706.4 L 1277.0,680.2 L 1285.3,677.4 L 1290.1,678.1 L 1290.1,689.8"/>
<path class="n" d="M 1230.0,725.1 L 1275.6,702.3 L 1274.2,695.4 C 1275.6,691.9 1281.1,691.2 1285.3,691.6 C 1289.4,691.9 1291.5,694.0 1291.5,696.1 L 1372.4,654.6"/>
<path class="n" d="M 1235.5,735.0 L 1288.1,705.0 L 1373.7,660.8"/>
<ellipse class="n" cx="1285.3" cy="695.1" rx="5.8" ry="2.8"/>
<ellipse class="n" cx="1362.4" cy="651.4" rx="5.8" ry="2.8"/>
<path class="n" d="M 1298.4,652.5 C 1293.6,659.4 1290.8,666.3 1290.8,677.4 L 1290.8,689.8"/>
<path class="n" d="M 1298.4,652.5 C 1301.9,647.0 1310.2,641.5 1318.5,639.4 L 1350.2,656.7"/>
<path class="n" d="M 1299.1,654.6 C 1300.5,660.8 1304.6,666.3 1321.2,675.3 L 1348.9,660.8"/>
<path class="n" d="M 1372.4,648.4 L 1372.4,696.8 M 1395.2,627.0 L 1395.2,667.7"/>
<path class="n" d="M 1372.4,647.7 L 1395.2,633.2"/>
<ellipse class="n" cx="1379.3" cy="629.7" rx="9.0" ry="4.8"/>
<path class="n" d="M 1370.3,629.0 C 1371.0,623.5 1376.5,620.7 1382.0,620.7 C 1388.9,620.7 1395.2,623.5 1395.2,627.6"/>
<path class="n" d="M 1395.2,667.7 L 1409.7,672.6 L 1409.7,706.4 L 1401.4,710.6 M 1401.4,678.8 L 1409.7,674.6 M 1376.5,680.2 L 1395.2,667.7 M 1373.7,696.8 L 1401.4,682.9"/>
<path class="n" d="M 1326.8,705.0 L 1379.3,732.7 L 1401.4,721.6 L 1401.4,682.9 M 1379.3,696.8 L 1379.3,732.7 M 1383.4,696.8 L 1383.4,732.0"/>
<path class="n" d="M 1351.6,682.9 L 1351.6,706.4 L 1373.7,696.8 M 1332.3,695.4 L 1351.6,706.4"/>
<path class="n" d="M 1351.6,682.9 C 1340.6,685.7 1332.3,691.2 1330.9,696.8 L 1329.5,706.4"/>
<path class="n" d="M 1277.0,735.0 C 1278.4,717.5 1285.3,705.0 1293.6,700.9 C 1301.9,699.5 1307.4,703.7 1310.2,710.6 L 1314.3,735.0"/>
<ellipse class="n" cx="1296.3" cy="720.2" rx="6.2" ry="10.4" transform="rotate(15.0 1296.3 720.2)"/>
<path class="n" d="M 1326.8,705.0 L 1326.8,721.6 L 1314.3,729.9"/>
<path class="n" d="M 1324.0,613.8 L 1344.7,626.3 L 1344.7,600.0 M 1344.7,626.3 C 1347.5,629.0 1351.6,630.4 1354.4,629.7 L 1361.3,626.3 L 1376.5,618.0 M 1343.3,600.0 L 1343.3,626.3 M 1354.4,620.7 L 1354.4,629.0 M 1359.9,619.4 L 1359.9,627.6 M 1376.5,600.0 L 1376.5,609.7"/>
<path class="n" d="M 1344.7,608.3 L 1376.5,593.1"/>
<ellipse class="n" cx="1326.8" cy="602.1" rx="8.3" ry="3.5"/>
<path class="n" d="M 1230.0,627.6 C 1243.8,623.5 1254.9,619.4 1261.8,613.8 C 1263.2,609.7 1257.6,607.6 1250.7,608.3"/>
<path class="n" d="M 1368.2,685.7 L 1368.2,658.1"/>
<!-- uA0.txt -->
<path class="n" d="M 798.4,640.6 L 812.0,631.8 L 831.2,642.4 L 816.9,649.4 Z"/>
<path class="n" d="M 798.4,640.6 L 785.1,681.2 L 782.6,726.0 L 788.4,731.0"/>
<path class="n" d="M 816.9,649.4 L 805.7,684.9"/>
<path class="n" d="M 794.2,678.7 L 805.7,684.9"/>
<path class="n" d="M 791.7,687.0 L 828.1,700.0 L 828.1,692.8"/>
<path class="n" d="M 791.7,687.9 L 790.1,732.6"/>
<path class="n" d="M 811.8,690.0 C 811.8,678.7 818.8,668.8 824.9,665.0"/>
<path class="n" d="M 828.1,700.0 C 829.9,687.5 834.9,678.7 842.5,672.4"/>
<path class="n" d="M 791.7,689.5 C 792.6,702.8 801.7,714.4 823.3,718.5 C 828.2,719.4 831.5,719.4 833.2,718.5"/>
<ellipse class="n" cx="823.9" cy="659.3" rx="2.8" ry="5.0" transform="rotate(25.0 823.9 659.3)"/>
<path class="n" d="M 831.2,643.1 L 838.7,655.7 L 858.1,666.3"/>
<path class="n" d="M 830.5,661.8 L 854.9,670.6"/>
<path class="n" d="M 856.4,670.4 C 858.1,666.3 865.5,664.3 873.0,664.3 C 881.3,664.3 886.8,667.1 887.9,670.4 L 887.9,691.8"/>
<ellipse class="n" cx="871.8" cy="673.8" rx="15.3" ry="9.0"/>
<ellipse class="n" cx="871.8" cy="673.6" rx="9.6" ry="5.6"/>
<path class="n" d="M 845.0,673.8 C 846.1,684.9 857.4,691.2 867.4,692.5 C 874.7,692.8 881.3,692.3 887.9,691.8"/>
<path class="n" d="M 888.6,668.8 L 902.4,668.0 M 888.6,673.1 L 902.4,672.3 M 888.6,683.1 L 902.4,682.2 M 888.6,687.4 L 902.4,686.5 M 902.4,668.0 L 902.4,686.5"/>
<path class="n" d="M 832.4,718.5 C 833.2,709.4 839.8,699.5 853.1,695.3 C 859.7,693.7 868.0,692.8 876.3,692.8 L 906.2,692.8 L 922.8,696.2"/>
<!-- uA1.txt -->
<path class="n" d="M 914.9,574.1 L 928.5,565.3 L 947.7,575.9 L 933.4,582.9 Z"/>
<path class="n" d="M 914.9,574.1 L 901.6,614.7 L 899.1,659.5 L 904.9,664.5"/>
<path class="n" d="M 933.4,582.9 L 922.2,618.4"/>
<path class="n" d="M 910.7,612.2 L 922.2,618.4"/>
<path class="n" d="M 908.2,620.5 L 944.6,633.5 L 944.6,626.3"/>
<path class="n" d="M 908.2,621.4 L 906.6,666.1"/>
<path class="n" d="M 928.3,623.5 C 928.3,612.2 935.3,602.3 941.4,598.5"/>
<path class="n" d="M 944.6,633.5 C 946.4,621.0 951.4,612.2 959.0,605.9"/>
<path class="n" d="M 908.2,623.0 C 909.1,636.3 918.2,647.9 939.8,652.0 C 944.7,652.9 948.0,652.9 949.7,652.0"/>
<ellipse class="n" cx="940.4" cy="592.8" rx="2.8" ry="5.0" transform="rotate(25.0 940.4 592.8)"/>
<path class="n" d="M 947.7,576.6 L 955.2,589.2 L 974.6,599.8"/>
<path class="n" d="M 947.0,595.3 L 971.4,604.1"/>
<path class="n" d="M 972.9,603.9 C 974.6,599.8 982.0,597.8 989.5,597.8 C 997.8,597.8 1003.3,600.6 1004.4,603.9 L 1004.4,625.3"/>
<ellipse class="n" cx="988.3" cy="607.3" rx="15.3" ry="9.0"/>
<ellipse class="n" cx="988.3" cy="607.1" rx="9.6" ry="5.6"/>
<path class="n" d="M 961.5,607.3 C 962.6,618.4 973.9,624.7 983.9,626.0 C 991.2,626.3 997.8,625.8 1004.4,625.3"/>
<path class="n" d="M 1005.1,602.3 L 1018.9,601.5 M 1005.1,606.6 L 1018.9,605.8 M 1005.1,616.6 L 1018.9,615.7 M 1005.1,620.9 L 1018.9,620.0 M 1018.9,601.5 L 1018.9,620.0"/>
<path class="n" d="M 948.9,652.0 C 949.7,642.9 956.3,633.0 969.6,628.8 C 976.2,627.2 984.5,626.3 992.8,626.3 L 1022.7,626.3 L 1039.3,629.7"/>
<!-- uA2.txt -->
<path class="n" d="M 1031.4,507.6 L 1045.0,498.8 L 1064.2,509.4 L 1049.9,516.4 Z"/>
<path class="n" d="M 1031.4,507.6 L 1018.1,548.2 L 1015.6,593.0 L 1021.4,598.0"/>
<path class="n" d="M 1049.9,516.4 L 1038.7,551.9"/>
<path class="n" d="M 1027.2,545.7 L 1038.7,551.9"/>
<path class="n" d="M 1024.7,554.0 L 1061.1,567.0 L 1061.1,559.8"/>
<path class="n" d="M 1024.7,554.9 L 1023.1,599.6"/>
<path class="n" d="M 1044.8,557.0 C 1044.8,545.7 1051.8,535.8 1057.9,532.0"/>
<path class="n" d="M 1061.1,567.0 C 1062.9,554.5 1067.9,545.7 1075.5,539.4"/>
<path class="n" d="M 1024.7,556.5 C 1025.6,569.8 1034.7,581.4 1056.3,585.5 C 1061.2,586.4 1064.5,586.4 1066.2,585.5"/>
<ellipse class="n" cx="1056.9" cy="526.3" rx="2.8" ry="5.0" transform="rotate(25.0 1056.9 526.3)"/>
<path class="n" d="M 1064.2,510.1 L 1071.7,522.7 L 1091.1,533.3"/>
<path class="n" d="M 1063.5,528.8 L 1087.9,537.6"/>
<path class="n" d="M 1089.4,537.4 C 1091.1,533.3 1098.5,531.3 1106.0,531.3 C 1114.3,531.3 1119.8,534.1 1120.9,537.4 L 1120.9,558.8"/>
<ellipse class="n" cx="1104.8" cy="540.8" rx="15.3" ry="9.0"/>
<ellipse class="n" cx="1104.8" cy="540.6" rx="9.6" ry="5.6"/>
<path class="n" d="M 1078.0,540.8 C 1079.1,551.9 1090.4,558.2 1100.4,559.5 C 1107.7,559.8 1114.3,559.3 1120.9,558.8"/>
<path class="n" d="M 1121.6,535.8 L 1135.4,535.0 M 1121.6,540.1 L 1135.4,539.3 M 1121.6,550.1 L 1135.4,549.2 M 1121.6,554.4 L 1135.4,553.5 M 1135.4,535.0 L 1135.4,553.5"/>
<path class="n" d="M 1065.4,585.5 C 1066.2,576.4 1072.8,566.5 1086.1,562.3 C 1092.7,560.7 1101.0,559.8 1109.3,559.8 L 1139.2,559.8 L 1155.8,563.2"/>
<!-- uA3.txt -->
<path class="n" d="M 1147.9,441.1 L 1161.5,432.3 L 1180.7,442.9 L 1166.4,449.9 Z"/>
<path class="n" d="M 1147.9,441.1 L 1134.6,481.7 L 1132.1,526.5 L 1137.9,531.5"/>
<path class="n" d="M 1166.4,449.9 L 1155.2,485.4"/>
<path class="n" d="M 1143.7,479.2 L 1155.2,485.4"/>
<path class="n" d="M 1141.2,487.5 L 1177.6,500.5 L 1177.6,493.3"/>
<path class="n" d="M 1141.2,488.4 L 1139.6,533.1"/>
<path class="n" d="M 1161.3,490.5 C 1161.3,479.2 1168.3,469.3 1174.4,465.5"/>
<path class="n" d="M 1177.6,500.5 C 1179.4,488.0 1184.4,479.2 1192.0,472.9"/>
<path class="n" d="M 1141.2,490.0 C 1142.1,503.3 1151.2,514.9 1172.8,519.0 C 1177.7,519.9 1181.0,519.9 1182.7,519.0"/>
<ellipse class="n" cx="1173.4" cy="459.8" rx="2.8" ry="5.0" transform="rotate(25.0 1173.4 459.8)"/>
<path class="n" d="M 1180.7,443.6 L 1188.2,456.2 L 1207.6,466.8"/>
<path class="n" d="M 1180.0,462.3 L 1204.4,471.1"/>
<path class="n" d="M 1205.9,470.9 C 1207.6,466.8 1215.0,464.8 1222.5,464.8 C 1230.8,464.8 1236.3,467.6 1237.4,470.9 L 1237.4,492.3"/>
<ellipse class="n" cx="1221.3" cy="474.3" rx="15.3" ry="9.0"/>
<ellipse class="n" cx="1221.3" cy="474.1" rx="9.6" ry="5.6"/>
<path class="n" d="M 1194.5,474.3 C 1195.6,485.4 1206.9,491.7 1216.9,493.0 C 1224.2,493.3 1230.8,492.8 1237.4,492.3"/>
<path class="n" d="M 1238.1,469.3 L 1251.9,468.5 M 1238.1,473.6 L 1251.9,472.8 M 1238.1,483.6 L 1251.9,482.7 M 1238.1,487.9 L 1251.9,487.0 M 1251.9,468.5 L 1251.9,487.0"/>
<path class="n" d="M 1181.9,519.0 C 1182.7,509.9 1189.3,500.0 1202.6,495.8 C 1209.2,494.2 1217.5,493.3 1225.8,493.3 L 1255.7,493.3 L 1272.3,496.7"/>
<!-- uB0.txt -->
<path class="n" d="M 826.0,762.7 C 819.1,761.4 815.4,756.4 816.6,751.5 C 817.2,747.7 819.1,745.2 821.0,743.3 L 844.7,716.5 C 849.7,707.7 856.0,701.5 866.0,697.1 C 872.2,694.6 879.7,693.7 888.4,693.7 C 898.4,693.7 904.7,695.9 909.7,699.0"/>
<path class="n" d="M 821.0,760.2 L 854.7,724.6 L 854.7,709.0"/>
<path class="n" d="M 854.7,709.0 C 861.0,702.1 869.7,699.0 880.9,699.0 C 890.9,699.0 899.7,700.9 903.4,704.0 L 932.2,719.6"/>
<path class="n" d="M 903.4,704.0 L 903.4,720.2 M 932.2,719.6 L 932.2,740.2"/>
<ellipse class="n" cx="881.6" cy="717.1" rx="9.0" ry="4.7"/>
<ellipse class="n" cx="881.6" cy="717.1" rx="5.2" ry="2.5"/>
<path class="n" d="M 872.6,717.1 L 872.6,734.0 M 890.6,717.1 L 890.6,734.0"/>
<ellipse class="n" cx="880.9" cy="735.8" rx="11.0" ry="4.1"/>
<path class="n" d="M 858.5,734.0 C 857.2,726.5 863.5,720.2 872.2,718.4 M 890.9,718.4 C 899.7,720.2 905.9,726.5 905.9,734.0"/>
<path class="n" d="M 858.5,734.0 C 861.0,741.5 868.5,745.2 878.5,746.5"/>
<ellipse class="n" cx="848.5" cy="750.8" rx="9.0" ry="4.7"/>
<ellipse class="n" cx="848.5" cy="750.8" rx="5.2" ry="2.5"/>
<path class="n" d="M 839.5,750.8 L 839.5,767.7 M 857.5,750.8 L 857.5,767.7"/>
<ellipse class="n" cx="848.5" cy="769.6" rx="11.0" ry="4.1"/>
<path class="n" d="M 826.0,762.7 C 827.2,757.7 833.5,754.6 839.1,753.9 M 857.8,753.9 C 866.0,755.8 871.0,760.2 872.2,765.2 C 871.0,772.7 866.0,776.4 858.5,778.9"/>
<path class="n" d="M 881.6,743.3 C 883.4,740.2 888.4,738.3 894.7,738.0 L 905.9,741.5 L 909.1,745.2 L 908.4,749.0 C 913.4,751.5 918.4,754.6 923.4,755.8 C 927.2,755.8 929.7,754.6 932.2,752.7 C 937.2,750.8 942.2,751.5 945.9,754.6 L 950.9,762.7 C 954.6,768.9 958.4,772.7 965.9,772.7 C 973.4,772.1 979.6,767.7 982.1,761.4"/>
<path class="n" d="M 881.6,743.3 L 881.6,773.9 L 890.9,775.8 L 890.9,760.2 M 896.6,760.2 L 896.6,775.2 M 881.6,757.7 L 896.6,760.2 L 910.9,766.4 L 912.2,771.4 L 908.4,773.9 L 908.4,791.4 C 913.4,795.2 920.9,795.2 925.9,792.7 L 943.4,783.9 C 944.7,782.7 943.4,780.8 939.7,780.8"/>
<path class="n" d="M 890.9,775.8 L 908.4,781.4"/>
<ellipse class="n" cx="892.2" cy="747.1" rx="5.6" ry="2.7"/>
<ellipse class="n" cx="937.8" cy="769.6" rx="10.6" ry="5.6"/>
<ellipse class="n" cx="937.8" cy="769.6" rx="8.7" ry="4.4"/>
<ellipse class="n" cx="955.9" cy="721.5" rx="9.4" ry="5.2"/>
<path class="n" d="M 968.4,731.5 C 969.6,727.7 975.9,727.1 980.9,729.0 L 993.5,734.0"/>
<path class="n" d="M 932.2,740.2 C 933.4,745.2 938.4,749.0 945.9,750.2 L 957.1,751.5 M 957.1,736.5 L 957.1,751.5 M 959.6,736.5 L 959.6,751.5"/>
<path class="n" d="M 932.2,736.5 C 938.4,734.0 944.7,734.0 949.6,734.6 L 957.1,736.5"/>
<path class="n" d="M 957.1,751.5 C 969.6,751.5 979.6,756.4 982.1,761.4"/>
<path class="n" d="M 823.2,724.2 C 817.0,723.0 808.3,723.0 800.8,725.5 C 792.0,729.2 785.8,735.5 785.1,743.0 C 785.1,749.2 788.3,753.0 794.5,754.2"/>
<path class="n" d="M 808.3,730.5 C 802.0,730.5 795.8,734.2 793.9,739.2 C 792.6,744.2 795.8,746.7 798.3,746.7"/>
<path class="n" d="M 823.2,780.4 C 817.0,777.9 808.3,767.9 807.0,757.9 C 806.4,751.7 809.5,745.5 814.5,740.5 L 847.0,705.5 C 852.0,700.5 859.5,698.0 869.5,698.0 L 891.9,698.0"/>
<ellipse class="n" cx="839.7" cy="787.7" rx="9.4" ry="5.0"/>
<path class="n" d="M 857.2,778.9 C 863.5,785.2 867.2,787.7 876.0,790.2 L 900.9,798.9 C 913.4,802.7 922.2,801.4 925.9,798.9"/>
<path class="n" d="M 852.2,796.4 C 854.7,793.9 859.7,793.9 866.0,795.2 L 888.4,801.4"/>
<path class="n" d="M 925.9,798.9 L 993.5,781.4"/>
<!-- uB1.txt -->
<path class="n" d="M 942.5,696.2 C 935.6,694.9 931.9,689.9 933.1,685.0 C 933.7,681.2 935.6,678.7 937.5,676.8 L 961.2,650.0 C 966.2,641.2 972.5,635.0 982.5,630.6 C 988.7,628.1 996.2,627.2 1004.9,627.2 C 1014.9,627.2 1021.2,629.4 1026.2,632.5"/>
<path class="n" d="M 937.5,693.7 L 971.2,658.1 L 971.2,642.5"/>
<path class="n" d="M 971.2,642.5 C 977.5,635.6 986.2,632.5 997.4,632.5 C 1007.4,632.5 1016.2,634.4 1019.9,637.5 L 1048.7,653.1"/>
<path class="n" d="M 1019.9,637.5 L 1019.9,653.7 M 1048.7,653.1 L 1048.7,673.7"/>
<ellipse class="n" cx="998.1" cy="650.6" rx="9.0" ry="4.7"/>
<ellipse class="n" cx="998.1" cy="650.6" rx="5.2" ry="2.5"/>
<path class="n" d="M 989.1,650.6 L 989.1,667.5 M 1007.1,650.6 L 1007.1,667.5"/>
<ellipse class="n" cx="997.4" cy="669.3" rx="11.0" ry="4.1"/>
<path class="n" d="M 975.0,667.5 C 973.7,660.0 980.0,653.7 988.7,651.9 M 1007.4,651.9 C 1016.2,653.7 1022.4,660.0 1022.4,667.5"/>
<path class="n" d="M 975.0,667.5 C 977.5,675.0 985.0,678.7 995.0,680.0"/>
<ellipse class="n" cx="965.0" cy="684.3" rx="9.0" ry="4.7"/>
<ellipse class="n" cx="965.0" cy="684.3" rx="5.2" ry="2.5"/>
<path class="n" d="M 956.0,684.3 L 956.0,701.2 M 974.0,684.3 L 974.0,701.2"/>
<ellipse class="n" cx="965.0" cy="703.1" rx="11.0" ry="4.1"/>
<path class="n" d="M 942.5,696.2 C 943.7,691.2 950.0,688.1 955.6,687.4 M 974.3,687.4 C 982.5,689.3 987.5,693.7 988.7,698.7 C 987.5,706.2 982.5,709.9 975.0,712.4"/>
<path class="n" d="M 998.1,676.8 C 999.9,673.7 1004.9,671.8 1011.2,671.5 L 1022.4,675.0 L 1025.6,678.7 L 1024.9,682.5 C 1029.9,685.0 1034.9,688.1 1039.9,689.3 C 1043.7,689.3 1046.2,688.1 1048.7,686.2 C 1053.7,684.3 1058.7,685.0 1062.4,688.1 L 1067.4,696.2 C 1071.1,702.4 1074.9,706.2 1082.4,706.2 C 1089.9,705.6 1096.1,701.2 1098.6,694.9"/>
<path class="n" d="M 998.1,676.8 L 998.1,707.4 L 1007.4,709.3 L 1007.4,693.7 M 1013.1,693.7 L 1013.1,708.7 M 998.1,691.2 L 1013.1,693.7 L 1027.4,699.9 L 1028.7,704.9 L 1024.9,707.4 L 1024.9,724.9 C 1029.9,728.7 1037.4,728.7 1042.4,726.2 L 1059.9,717.4 C 1061.2,716.2 1059.9,714.3 1056.2,714.3"/>
<path class="n" d="M 1007.4,709.3 L 1024.9,714.9"/>
<ellipse class="n" cx="1008.7" cy="680.6" rx="5.6" ry="2.7"/>
<ellipse class="n" cx="1054.3" cy="703.1" rx="10.6" ry="5.6"/>
<ellipse class="n" cx="1054.3" cy="703.1" rx="8.7" ry="4.4"/>
<ellipse class="n" cx="1072.4" cy="655.0" rx="9.4" ry="5.2"/>
<path class="n" d="M 1084.9,665.0 C 1086.1,661.2 1092.4,660.6 1097.4,662.5 L 1110.0,667.5"/>
<path class="n" d="M 1048.7,673.7 C 1049.9,678.7 1054.9,682.5 1062.4,683.7 L 1073.6,685.0 M 1073.6,670.0 L 1073.6,685.0 M 1076.1,670.0 L 1076.1,685.0"/>
<path class="n" d="M 1048.7,670.0 C 1054.9,667.5 1061.2,667.5 1066.1,668.1 L 1073.6,670.0"/>
<path class="n" d="M 1073.6,685.0 C 1086.1,685.0 1096.1,689.9 1098.6,694.9"/>
<path class="n" d="M 912.5,691.8 C 908.1,694.3 908.1,699.9 913.8,701.8 L 943.1,713.9 C 947.5,715.6 948.7,711.2 945.6,708.7 L 918.8,693.1 C 916.3,691.4 914.4,691.2 912.5,691.8"/>
<path class="n" d="M 939.7,657.7 C 933.5,656.5 924.8,656.5 917.3,659.0 C 908.5,662.7 902.3,669.0 901.6,676.5 C 901.6,682.7 904.8,686.5 911.0,687.7"/>
<path class="n" d="M 924.8,664.0 C 918.5,664.0 912.3,667.7 910.4,672.7 C 909.1,677.7 912.3,680.2 914.8,680.2"/>
<path class="n" d="M 939.7,713.9 C 933.5,711.4 924.8,701.4 923.5,691.4 C 922.9,685.2 926.0,679.0 931.0,674.0 L 963.5,639.0 C 968.5,634.0 976.0,631.5 986.0,631.5 L 1008.4,631.5"/>
<ellipse class="n" cx="956.2" cy="721.2" rx="9.4" ry="5.0"/>
<path class="n" d="M 973.7,712.4 C 980.0,718.7 983.7,721.2 992.5,723.7 L 1017.4,732.4 C 1029.9,736.2 1038.7,734.9 1042.4,732.4"/>
<path class="n" d="M 968.7,729.9 C 971.2,727.4 976.2,727.4 982.5,728.7 L 1004.9,734.9"/>
<path class="n" d="M 1042.4,732.4 L 1110.0,714.9"/>
<!-- uB2.txt -->
<path class="n" d="M 1059.0,629.7 C 1052.1,628.4 1048.4,623.4 1049.6,618.5 C 1050.2,614.7 1052.1,612.2 1054.0,610.3 L 1077.7,583.5 C 1082.7,574.7 1089.0,568.5 1099.0,564.1 C 1105.2,561.6 1112.7,560.7 1121.4,560.7 C 1131.4,560.7 1137.7,562.9 1142.7,566.0"/>
<path class="n" d="M 1054.0,627.2 L 1087.7,591.6 L 1087.7,576.0"/>
<path class="n" d="M 1087.7,576.0 C 1094.0,569.1 1102.7,566.0 1113.9,566.0 C 1123.9,566.0 1132.7,567.9 1136.4,571.0 L 1165.2,586.6"/>
<path class="n" d="M 1136.4,571.0 L 1136.4,587.2 M 1165.2,586.6 L 1165.2,607.2"/>
<ellipse class="n" cx="1114.6" cy="584.1" rx="9.0" ry="4.7"/>
<ellipse class="n" cx="1114.6" cy="584.1" rx="5.2" ry="2.5"/>
<path class="n" d="M 1105.6,584.1 L 1105.6,601.0 M 1123.6,584.1 L 1123.6,601.0"/>
<ellipse class="n" cx="1113.9" cy="602.8" rx="11.0" ry="4.1"/>
<path class="n" d="M 1091.5,601.0 C 1090.2,593.5 1096.5,587.2 1105.2,585.4 M 1123.9,585.4 C 1132.7,587.2 1138.9,593.5 1138.9,601.0"/>
<path class="n" d="M 1091.5,601.0 C 1094.0,608.5 1101.5,612.2 1111.5,613.5"/>
<ellipse class="n" cx="1081.5" cy="617.8" rx="9.0" ry="4.7"/>
<ellipse class="n" cx="1081.5" cy="617.8" rx="5.2" ry="2.5"/>
<path class="n" d="M 1072.5,617.8 L 1072.5,634.7 M 1090.5,617.8 L 1090.5,634.7"/>
<ellipse class="n" cx="1081.5" cy="636.6" rx="11.0" ry="4.1"/>
<path class="n" d="M 1059.0,629.7 C 1060.2,624.7 1066.5,621.6 1072.1,620.9 M 1090.8,620.9 C 1099.0,622.8 1104.0,627.2 1105.2,632.2 C 1104.0,639.7 1099.0,643.4 1091.5,645.9"/>
<path class="n" d="M 1114.6,610.3 C 1116.4,607.2 1121.4,605.3 1127.7,605.0 L 1138.9,608.5 L 1142.1,612.2 L 1141.4,616.0 C 1146.4,618.5 1151.4,621.6 1156.4,622.8 C 1160.2,622.8 1162.7,621.6 1165.2,619.7 C 1170.2,617.8 1175.2,618.5 1178.9,621.6 L 1183.9,629.7 C 1187.6,635.9 1191.4,639.7 1198.9,639.7 C 1206.4,639.1 1212.6,634.7 1215.1,628.4"/>
<path class="n" d="M 1114.6,610.3 L 1114.6,640.9 L 1123.9,642.8 L 1123.9,627.2 M 1129.6,627.2 L 1129.6,642.2 M 1114.6,624.7 L 1129.6,627.2 L 1143.9,633.4 L 1145.2,638.4 L 1141.4,640.9 L 1141.4,658.4 C 1146.4,662.2 1153.9,662.2 1158.9,659.7 L 1176.4,650.9 C 1177.7,649.7 1176.4,647.8 1172.7,647.8"/>
<path class="n" d="M 1123.9,642.8 L 1141.4,648.4"/>
<ellipse class="n" cx="1125.2" cy="614.1" rx="5.6" ry="2.7"/>
<ellipse class="n" cx="1170.8" cy="636.6" rx="10.6" ry="5.6"/>
<ellipse class="n" cx="1170.8" cy="636.6" rx="8.7" ry="4.4"/>
<ellipse class="n" cx="1188.9" cy="588.5" rx="9.4" ry="5.2"/>
<path class="n" d="M 1201.4,598.5 C 1202.6,594.7 1208.9,594.1 1213.9,596.0 L 1226.5,601.0"/>
<path class="n" d="M 1165.2,607.2 C 1166.4,612.2 1171.4,616.0 1178.9,617.2 L 1190.1,618.5 M 1190.1,603.5 L 1190.1,618.5 M 1192.6,603.5 L 1192.6,618.5"/>
<path class="n" d="M 1165.2,603.5 C 1171.4,601.0 1177.7,601.0 1182.6,601.6 L 1190.1,603.5"/>
<path class="n" d="M 1190.1,618.5 C 1202.6,618.5 1212.6,623.4 1215.1,628.4"/>
<path class="n" d="M 1029.0,625.3 C 1024.6,627.8 1024.6,633.4 1030.3,635.3 L 1059.6,647.4 C 1064.0,649.1 1065.2,644.7 1062.1,642.2 L 1035.3,626.6 C 1032.8,624.9 1030.9,624.7 1029.0,625.3"/>
<path class="n" d="M 1056.2,591.2 C 1050.0,590.0 1041.3,590.0 1033.8,592.5 C 1025.0,596.2 1018.8,602.5 1018.1,610.0 C 1018.1,616.2 1021.3,620.0 1027.5,621.2"/>
<path class="n" d="M 1041.3,597.5 C 1035.0,597.5 1028.8,601.2 1026.9,606.2 C 1025.6,611.2 1028.8,613.7 1031.3,613.7"/>
<path class="n" d="M 1056.2,647.4 C 1050.0,644.9 1041.3,634.9 1040.0,624.9 C 1039.4,618.7 1042.5,612.5 1047.5,607.5 L 1080.0,572.5 C 1085.0,567.5 1092.5,565.0 1102.5,565.0 L 1124.9,565.0"/>
<ellipse class="n" cx="1072.7" cy="654.7" rx="9.4" ry="5.0"/>
<path class="n" d="M 1090.2,645.9 C 1096.5,652.2 1100.2,654.7 1109.0,657.2 L 1133.9,665.9 C 1146.4,669.7 1155.2,668.4 1158.9,665.9"/>
<path class="n" d="M 1085.2,663.4 C 1087.7,660.9 1092.7,660.9 1099.0,662.2 L 1121.4,668.4"/>
<path class="n" d="M 1158.9,665.9 L 1226.5,648.4"/>
<!-- uB3.txt -->
<path class="n" d="M 1175.5,563.2 C 1168.6,561.9 1164.9,556.9 1166.1,552.0 C 1166.7,548.2 1168.6,545.7 1170.5,543.8 L 1194.2,517.0 C 1199.2,508.2 1205.5,502.0 1215.5,497.6 C 1221.7,495.1 1229.2,494.2 1237.9,494.2 C 1247.9,494.2 1254.2,496.4 1259.2,499.5"/>
<path class="n" d="M 1170.5,560.7 L 1204.2,525.1 L 1204.2,509.5"/>
<path class="n" d="M 1204.2,509.5 C 1210.5,502.6 1219.2,499.5 1230.4,499.5 C 1240.4,499.5 1249.2,501.4 1252.9,504.5 L 1281.7,520.1"/>
<path class="n" d="M 1252.9,504.5 L 1252.9,520.7 M 1281.7,520.1 L 1281.7,540.7"/>
<ellipse class="n" cx="1231.1" cy="517.6" rx="9.0" ry="4.7"/>
<ellipse class="n" cx="1231.1" cy="517.6" rx="5.2" ry="2.5"/>
<path class="n" d="M 1222.1,517.6 L 1222.1,534.5 M 1240.1,517.6 L 1240.1,534.5"/>
<ellipse class="n" cx="1230.4" cy="536.3" rx="11.0" ry="4.1"/>
<path class="n" d="M 1208.0,534.5 C 1206.7,527.0 1213.0,520.7 1221.7,518.9 M 1240.4,518.9 C 1249.2,520.7 1255.4,527.0 1255.4,534.5"/>
<path class="n" d="M 1208.0,534.5 C 1210.5,542.0 1218.0,545.7 1228.0,547.0"/>
<ellipse class="n" cx="1198.0" cy="551.3" rx="9.0" ry="4.7"/>
<ellipse class="n" cx="1198.0" cy="551.3" rx="5.2" ry="2.5"/>
<path class="n" d="M 1189.0,551.3 L 1189.0,568.2 M 1207.0,551.3 L 1207.0,568.2"/>
<ellipse class="n" cx="1198.0" cy="570.1" rx="11.0" ry="4.1"/>
<path class="n" d="M 1175.5,563.2 C 1176.7,558.2 1183.0,555.1 1188.6,554.4 M 1207.3,554.4 C 1215.5,556.3 1220.5,560.7 1221.7,565.7 C 1220.5,573.2 1215.5,576.9 1208.0,579.4"/>
<path class="n" d="M 1231.1,543.8 C 1232.9,540.7 1237.9,538.8 1244.2,538.5 L 1255.4,542.0 L 1258.6,545.7 L 1257.9,549.5 C 1262.9,552.0 1267.9,555.1 1272.9,556.3 C 1276.7,556.3 1279.2,555.1 1281.7,553.2 C 1286.7,551.3 1291.7,552.0 1295.4,555.1 L 1300.4,563.2 C 1304.1,569.4 1307.9,573.2 1315.4,573.2 C 1322.9,572.6 1329.1,568.2 1331.6,561.9"/>
<path class="n" d="M 1231.1,543.8 L 1231.1,574.4 L 1240.4,576.3 L 1240.4,560.7 M 1246.1,560.7 L 1246.1,575.7 M 1231.1,558.2 L 1246.1,560.7 L 1260.4,566.9 L 1261.7,571.9 L 1257.9,574.4 L 1257.9,591.9 C 1262.9,595.7 1270.4,595.7 1275.4,593.2 L 1292.9,584.4 C 1294.2,583.2 1292.9,581.3 1289.2,581.3"/>
<path class="n" d="M 1240.4,576.3 L 1257.9,581.9"/>
<ellipse class="n" cx="1241.7" cy="547.6" rx="5.6" ry="2.7"/>
<ellipse class="n" cx="1287.3" cy="570.1" rx="10.6" ry="5.6"/>
<ellipse class="n" cx="1287.3" cy="570.1" rx="8.7" ry="4.4"/>
<ellipse class="n" cx="1305.4" cy="522.0" rx="9.4" ry="5.2"/>
<path class="n" d="M 1317.9,532.0 C 1319.1,528.2 1325.4,527.6 1330.4,529.5 L 1343.0,534.5"/>
<path class="n" d="M 1281.7,540.7 C 1282.9,545.7 1287.9,549.5 1295.4,550.7 L 1306.6,552.0 M 1306.6,537.0 L 1306.6,552.0 M 1309.1,537.0 L 1309.1,552.0"/>
<path class="n" d="M 1281.7,537.0 C 1287.9,534.5 1294.2,534.5 1299.1,535.1 L 1306.6,537.0"/>
<path class="n" d="M 1306.6,552.0 C 1319.1,552.0 1329.1,556.9 1331.6,561.9"/>
<path class="n" d="M 1145.5,558.8 C 1141.1,561.3 1141.1,566.9 1146.8,568.8 L 1176.1,580.9 C 1180.5,582.6 1181.7,578.2 1178.6,575.7 L 1151.8,560.1 C 1149.3,558.4 1147.4,558.2 1145.5,558.8"/>
<path class="n" d="M 1172.7,524.7 C 1166.5,523.5 1157.8,523.5 1150.3,526.0 C 1141.5,529.7 1135.3,536.0 1134.6,543.5 C 1134.6,549.7 1137.8,553.5 1144.0,554.7"/>
<path class="n" d="M 1157.8,531.0 C 1151.5,531.0 1145.3,534.7 1143.4,539.7 C 1142.1,544.7 1145.3,547.2 1147.8,547.2"/>
<path class="n" d="M 1172.7,580.9 C 1166.5,578.4 1157.8,568.4 1156.5,558.4 C 1155.9,552.2 1159.0,546.0 1164.0,541.0 L 1196.5,506.0 C 1201.5,501.0 1209.0,498.5 1219.0,498.5 L 1241.4,498.5"/>
<ellipse class="n" cx="1189.2" cy="588.2" rx="9.4" ry="5.0"/>
<path class="n" d="M 1206.7,579.4 C 1213.0,585.7 1216.7,588.2 1225.5,590.7 L 1250.4,599.4 C 1262.9,603.2 1271.7,601.9 1275.4,599.4"/>
<path class="n" d="M 1201.7,596.9 C 1204.2,594.4 1209.2,594.4 1215.5,595.7 L 1237.9,601.9"/>
<path class="n" d="M 1275.4,599.4 L 1343.0,581.9"/>
</g>
<!-- /ENGINE -->
<!--PARTS-->
</svg>
</body></html>
